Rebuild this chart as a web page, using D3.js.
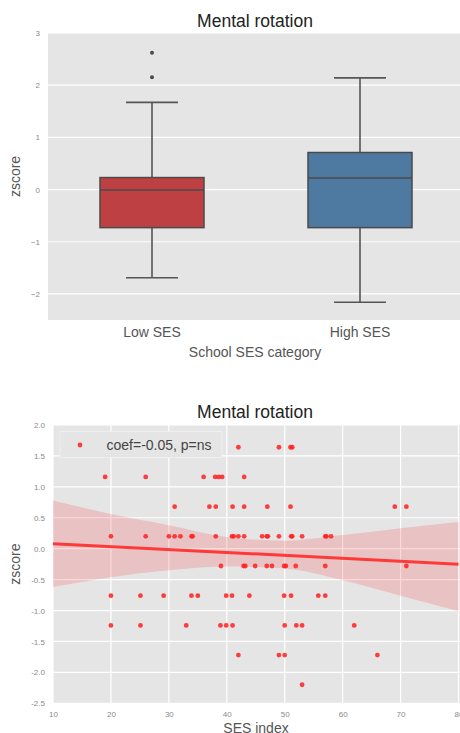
<!DOCTYPE html>
<html>
<head>
<meta charset="utf-8">
<script src="https://cdn.jsdelivr.net/npm/d3@7"></script>
<style>
  html, body { margin: 0; padding: 0; background: #fff; }
  svg { display: block; font-family: "Liberation Sans", Arial, sans-serif; }
</style>
</head>
<body>
<svg id="chart" width="460" height="733"></svg>
<script>
// ---------- Data: box plot ----------
const boxCategories = ["Low SES", "High SES"];
const boxLowerWhisker = [-1.69, -2.16];
const boxQ1 = [-0.73, -0.73];
const boxMedian = [-0.01, 0.22];
const boxQ3 = [0.23, 0.71];
const boxUpperWhisker = [1.67, 2.14];
const boxOutliersLow = [2.15, 2.62];
const boxOutliersHigh = [];
const boxColors = ["#bf4043", "#4e7aa1"];
const boxYTicks = [-2, -1, 0, 1, 2, 3];

// ---------- Data: scatter ----------
const sesIndex = [
  42, 49, 51, 51.3,
  19, 26, 36, 38, 38.6, 39.2, 43,
  31, 37, 38.1, 41, 43, 47, 51, 69, 71,
  20, 26, 30, 31, 32, 33.9, 34.1, 38.1, 40.9, 41.2, 42, 43, 46.1, 46.9, 47.1, 49, 51.1, 51.3, 53, 57, 57.2, 58,
  39, 42.9, 43.2, 44.9, 46.9, 47.8, 49.9, 50.2, 51.9, 57, 71,
  20, 25.1, 29.1, 33.9, 35, 39.9, 40.9, 43.9, 49.9, 51.1, 55.8, 57,
  20, 25.1, 33, 38.9, 39.9, 41, 50, 52, 53, 62,
  42, 49, 50, 66,
  53
];
const zscore = [
  1.64, 1.64, 1.64, 1.64,
  1.16, 1.16, 1.16, 1.16, 1.16, 1.16, 1.16,
  0.68, 0.68, 0.68, 0.68, 0.68, 0.68, 0.68, 0.68, 0.68,
  0.20, 0.20, 0.20, 0.20, 0.20, 0.20, 0.20, 0.20, 0.20, 0.20, 0.20, 0.20, 0.20, 0.20, 0.20, 0.20, 0.20, 0.20, 0.20, 0.20, 0.20, 0.20,
  -0.28, -0.28, -0.28, -0.28, -0.28, -0.28, -0.28, -0.28, -0.28, -0.28, -0.28,
  -0.76, -0.76, -0.76, -0.76, -0.76, -0.76, -0.76, -0.76, -0.76, -0.76, -0.76, -0.76,
  -1.24, -1.24, -1.24, -1.24, -1.24, -1.24, -1.24, -1.24, -1.24, -1.24,
  -1.72, -1.72, -1.72, -1.72,
  -2.20
];
const fitX = [10, 80];
const fitY = [0.08, -0.25];
const ciX = [10, 20, 30, 40, 50, 60, 70, 80];
const ciUpper = [0.78, 0.56, 0.38, 0.19, 0.13, 0.22, 0.33, 0.43];
const ciLower = [-0.62, -0.46, -0.35, -0.29, -0.32, -0.51, -0.76, -1.01];
const scatterXTicks = [10, 20, 30, 40, 50, 60, 70, 80];
const scatterYTicks = [-2.5, -2.0, -1.5, -1.0, -0.5, 0.0, 0.5, 1.0, 1.5, 2.0];
const legendLabel = "coef=-0.05, p=ns";
const chartTitle = "Mental rotation";

const svg = d3.select("#chart");
const BG = "#e5e5e5";
const TICK_COLOR = "#8a8a8a";
const LABEL_COLOR = "#555555";
const TITLE_COLOR = "#222222";

// =========== TOP: box plot ===========
{
  const left = 48, right = 464, top = 33, bottom = 320;
  const x = d3.scaleBand().domain(boxCategories).range([left, right]).padding(0);
  const y = d3.scaleLinear().domain([-2.5, 3]).range([bottom, top]);
  const g = svg.append("g");
  g.append("rect").attr("x", left).attr("y", top).attr("width", right - left).attr("height", bottom - top).attr("fill", BG);

  const yAxis = d3.axisLeft(y).tickValues(boxYTicks).tickFormat(d3.format("d")).tickSize(0).tickPadding(8);
  const ya = g.append("g").attr("transform", `translate(${left},0)`).call(yAxis);
  ya.select(".domain").remove();
  ya.selectAll("text").attr("fill", TICK_COLOR).style("font-size", "8px");

  g.append("g").selectAll("line").data(boxYTicks).join("line")
    .attr("x1", left).attr("x2", right).attr("y1", d => y(d)).attr("y2", d => y(d))
    .attr("stroke", "#fff").attr("stroke-width", 1.2);

  const xAxis = d3.axisBottom(x).tickSize(0).tickPadding(7);
  const xa = g.append("g").attr("transform", `translate(0,${bottom})`).call(xAxis);
  xa.select(".domain").remove();
  xa.selectAll("text").attr("fill", LABEL_COLOR).style("font-size", "14px");

  const bw = x.bandwidth() * 0.5;
  const edge = "#4a4a4a";
  boxCategories.forEach((c, i) => {
    const cx = x(c) + x.bandwidth() / 2;
    const bg = g.append("g");
    bg.append("line").attr("x1", cx).attr("x2", cx).attr("y1", y(boxQ3[i])).attr("y2", y(boxUpperWhisker[i]))
      .attr("stroke", "#555").attr("stroke-width", 1.6);
    bg.append("line").attr("x1", cx).attr("x2", cx).attr("y1", y(boxQ1[i])).attr("y2", y(boxLowerWhisker[i]))
      .attr("stroke", "#555").attr("stroke-width", 1.6);
    [boxUpperWhisker[i], boxLowerWhisker[i]].forEach(v => {
      bg.append("line").attr("x1", cx - bw / 4).attr("x2", cx + bw / 4).attr("y1", y(v)).attr("y2", y(v))
        .attr("stroke", "#555").attr("stroke-width", 1.6);
    });
    bg.append("rect").attr("x", cx - bw / 2).attr("y", y(boxQ3[i]))
      .attr("width", bw).attr("height", y(boxQ1[i]) - y(boxQ3[i]))
      .attr("fill", boxColors[i]).attr("stroke", edge).attr("stroke-width", 1.5);
    bg.append("line").attr("x1", cx - bw / 2).attr("x2", cx + bw / 2).attr("y1", y(boxMedian[i])).attr("y2", y(boxMedian[i]))
      .attr("stroke", edge).attr("stroke-width", 1.6);
    const outs = i === 0 ? boxOutliersLow : boxOutliersHigh;
    bg.selectAll("circle").data(outs).join("circle")
      .attr("cx", cx).attr("cy", d => y(d)).attr("r", 2).attr("fill", "#4a4a4a");
  });

  svg.append("text").attr("x", 255).attr("y", 27).attr("text-anchor", "middle")
    .attr("fill", TITLE_COLOR).style("font-size", "17.5px").text(chartTitle);
  svg.append("text").attr("x", 255).attr("y", 357).attr("text-anchor", "middle")
    .attr("fill", LABEL_COLOR).style("font-size", "14px").text("School SES category");
  svg.append("text").attr("transform", `translate(20,${(top + bottom) / 2}) rotate(-90)`).attr("text-anchor", "middle")
    .attr("fill", LABEL_COLOR).style("font-size", "14px").text("zscore");
}

// =========== BOTTOM: scatter + regression ===========
{
  const left = 53, right = 458.5, top = 425, bottom = 703.3;
  const x = d3.scaleLinear().domain([10, 80]).range([left, right]);
  const y = d3.scaleLinear().domain([-2.5, 2]).range([bottom, top]);
  const g = svg.append("g");
  g.append("rect").attr("x", left).attr("y", top).attr("width", 460 - left).attr("height", bottom - top).attr("fill", BG);

  g.append("g").selectAll("line").data(scatterYTicks).join("line")
    .attr("x1", left).attr("x2", 460).attr("y1", d => y(d)).attr("y2", d => y(d))
    .attr("stroke", "#fff").attr("stroke-width", 1.2);
  g.append("g").selectAll("line").data(scatterXTicks).join("line")
    .attr("x1", d => x(d)).attr("x2", d => x(d)).attr("y1", top).attr("y2", bottom)
    .attr("stroke", "#fff").attr("stroke-width", 1.2);

  const yAxis = d3.axisLeft(y).tickValues(scatterYTicks).tickFormat(d3.format(".1f")).tickSize(0).tickPadding(8);
  const ya = g.append("g").attr("transform", `translate(${left},0)`).call(yAxis);
  ya.select(".domain").remove();
  ya.selectAll("text").attr("fill", TICK_COLOR).style("font-size", "8px").text(d => d3.format(".1f")(d).replace("−", "-"));

  const xAxis = d3.axisBottom(x).tickValues(scatterXTicks).tickFormat(d3.format("d")).tickSize(0).tickPadding(8);
  const xa = g.append("g").attr("transform", `translate(0,${bottom})`).call(xAxis);
  xa.select(".domain").remove();
  xa.selectAll("text").attr("fill", TICK_COLOR).style("font-size", "8px");

  const clip = svg.append("clipPath").attr("id", "plotclip");
  clip.append("rect").attr("x", left).attr("y", top).attr("width", 460 - left).attr("height", bottom - top);

  const band = d3.area().x(d => x(d.x)).y0(d => y(d.lo)).y1(d => y(d.hi)).curve(d3.curveMonotoneX);
  const bandData = ciX.map((v, i) => ({ x: v, lo: ciLower[i], hi: ciUpper[i] }));
  g.append("path").attr("d", band(bandData)).attr("fill", "#ff0000").attr("fill-opacity", 0.15)
    .attr("clip-path", "url(#plotclip)");

  const pts = sesIndex.map((v, i) => ({ x: v, y: zscore[i] }));
  g.append("g").selectAll("circle").data(pts).join("circle")
    .attr("cx", d => x(d.x)).attr("cy", d => y(d.y)).attr("r", 2.4)
    .attr("fill", "#ff2020").attr("fill-opacity", 0.85);

  const line = d3.line().x(d => x(d[0])).y(d => y(d[1]));
  g.append("path").attr("d", line(fitX.map((v, i) => [v, fitY[i]])))
    .attr("stroke", "#ff2a2a").attr("stroke-width", 3).attr("fill", "none").attr("stroke-opacity", 0.9);

  // legend
  const lg = g.append("g");
  lg.append("rect").attr("x", 60).attr("y", 431.5).attr("width", 162).attr("height", 26)
    .attr("fill", "#e5e5e5").attr("stroke", "#efefef").attr("stroke-width", 1);
  lg.append("circle").attr("cx", 80).attr("cy", 445).attr("r", 2.4).attr("fill", "#ff2020").attr("fill-opacity", 0.85);
  lg.append("text").attr("x", 106.5).attr("y", 450).attr("fill", "#444").style("font-size", "14px").text(legendLabel);

  svg.append("text").attr("x", 255).attr("y", 418).attr("text-anchor", "middle")
    .attr("fill", TITLE_COLOR).style("font-size", "17.5px").text(chartTitle);
  svg.append("text").attr("x", 256).attr("y", 733).attr("text-anchor", "middle")
    .attr("fill", LABEL_COLOR).style("font-size", "14px").text("SES index");
  svg.append("text").attr("transform", `translate(20,${(top + bottom) / 2}) rotate(-90)`).attr("text-anchor", "middle")
    .attr("fill", LABEL_COLOR).style("font-size", "14px").text("zscore");
}
</script>
</body>
</html>
